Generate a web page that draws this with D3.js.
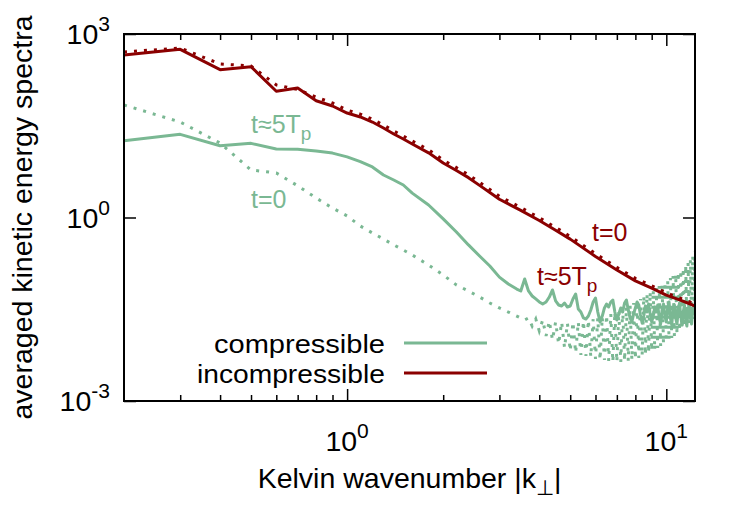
<!DOCTYPE html>
<html><head><meta charset="utf-8">
<script src="https://cdn.jsdelivr.net/npm/d3@7"></script>
<style>
body{margin:0;background:#fff;}
svg{display:block;}
text{font-family:"Liberation Sans",Arial,Helvetica,sans-serif;}
</style></head>
<body><svg id="c" width="747" height="523"></svg>
<script>
// ---- data ----
const kIncomp = [0.2,0.3,0.4,0.5,0.6,0.7,0.8,0.9,1.0,1.1,1.2,1.3,1.4,1.5,1.6,1.8,2.0,2.2,2.4,2.6,2.8,3.0,3.5,4.0,4.5,5.0,6.0,7.0,8.0,9.0,10,11,12,12.3];
const incompT5 = [454,562,261,292,116,131,81,66.5,51,44,36.4,29,23.2,19.2,15.9,11.4,7.8,5.86,4.48,3.35,2.57,1.99,1.31,0.893,0.619,0.443,0.231,0.139,0.092,0.0702,0.054,0.045,0.0378,0.0357];
const incompT0 = [508,590,324,300,147,124,93,74.5,57,49,40.5,32.5,26,21.5,17.8,12.8,8.7,6.55,5.0,3.75,2.88,2.22,1.46,0.99,0.69,0.49,0.256,0.153,0.101,0.0766,0.0587,0.0485,0.0405,0.038];

const kCompLow = [0.2,0.3,0.4,0.5,0.6,0.7,0.8,0.9,1.0,1.1,1.2,1.3,1.4,1.5,1.6,1.8,2.0,2.2,2.4,2.6,2.8,3.0,3.2,3.4];
const kCompHigh = [3.5,3.6,3.7,3.8,3.9,4.0,4.1,4.2,4.3,4.4,4.5,4.6,4.7,4.8,4.9,5.0,5.1,5.2,5.3,5.4,5.5,5.6,5.7,5.8,5.9,6.0,6.1,6.2,6.3,6.4,6.5,6.6,6.7,6.8,6.9,7.0,7.1,7.2,7.3,7.4,7.5,7.6,7.7,7.8,7.9,8.0,8.1,8.2,8.3,8.4,8.5,8.6,8.7,8.8,8.9,9.0,9.1,9.2,9.3,9.4,9.5,9.6,9.7,9.8,9.9,10.0,10.1,10.2,10.3,10.4,10.5,10.6,10.7,10.8,10.9,11.0,11.1,11.2,11.3,11.4,11.5,11.6,11.7,11.8,11.9,12.0,12.1,12.2,12.3];

const compT5Low = [18.0,22.9,14.9,16.3,13.2,13.0,12.2,11.3,9.8,8.2,6.7,4.95,4.1,3.4,2.5,1.6,0.95,0.58,0.356,0.235,0.161,0.106,0.0818,0.0677];
const compT5High = [0.0629,0.0989,0.0629,0.0521,0.0466,
 0.0416,0.0385,0.0416,0.0501,0.0653,0.0432,0.0371,0.0357,0.0400,0.0344,
 0.0357,0.0466,0.0562,0.0319,0.0285,0.0228,0.0219,0.0245,0.0308,0.0416,
 0.0483,0.0285,0.0196,0.0245,0.0332,0.0385,0.0344,0.0416,0.0448,0.0285,
 0.0211,0.0265,0.0332,0.0285,0.0400,0.0448,0.0308,0.0228,0.0196,0.0265,
 0.0332,0.0416,0.0371,0.0255,0.0188,0.0245,0.0357,0.0285,0.0385,0.0265,
 0.0196,0.0245,0.0344,0.0285,0.0371,0.0228,0.0182,0.0308,0.0385,0.0245,
 0.0196,0.0332,0.0416,0.0228,0.0175,0.0308,0.0371,0.0228,0.0182,0.0319,
 0.0400,0.0245,0.0175,0.0285,0.0371,0.0211,0.0168,0.0308,0.0385,0.0228,
 0.0182,0.0319,0.0357,0.0255];

const compT0Low = [69,36.4,16.5,5.98,5.35,3.3,2.08,1.43,1.06,0.726,0.558,0.445,0.356,0.294,0.244,0.167,0.115,0.0789,0.0629,0.0501,0.0400,0.0332,0.0285,0.0245];
const compT0High = [0.0228,0.0211,0.0228,0.0168,0.0219,
 0.0140,0.0211,0.01156,0.0203,0.00994,0.0196,0.00855,0.0196,0.00736,0.0188,
 0.00657,0.0196,0.00610,0.0196,0.00565,0.0203,0.00544,0.0211,0.00524,0.0219,
 0.00486,0.0228,0.00468,0.0236,0.00468,0.0255,0.00451,0.0265,0.00434,0.0285,
 0.00434,0.0296,0.00434,0.0319,0.00451,0.0344,0.00451,0.0371,0.00468,0.0400,
 0.00486,0.0432,0.00505,0.0466,0.00544,0.0521,0.00565,0.0562,0.00610,0.0606,
 0.00657,0.0653,0.00683,0.0704,0.00736,0.0759,0.00793,0.0818,0.00855,0.0882,
 0.00922,0.0951,0.00994,0.1026,0.01072,0.1106,0.01156,0.1193,0.01246,0.1286,
 0.0140,0.1387,0.0150,0.1495,0.0162,0.1674,0.0175,0.1804,0.0188,0.2020,
 0.0203,0.2349,0.0219,0.2835];

const xMajor = [1, 10];
const xMinor = [0.3,0.4,0.5,0.6,0.7,0.8,0.9,2,3,4,5,6,7,8,9];
const xTickBase = ["10","10"];
const xTickExp = ["0","1"];
const yMajor = [1e-3, 1, 1e3];
const yTickBase = ["10","10","10"];
const yTickExp = ["-3","0","3"];
const legendLabels = ["compressible","incompressible"];

// ---- layout ----
const L=124, R=695, T=34, B=401;
const green = "#7ab893", red = "#8b0000";
const svg = d3.select("#c");
const x = d3.scaleLog().domain([0.2, 12.3]).range([L, R]);
const y = d3.scaleLog().domain([1e-3, 1e3]).range([B, T]);

svg.append("defs").append("clipPath").attr("id","clip")
  .append("rect").attr("x",L).attr("y",T).attr("width",R-L).attr("height",B-T);

const line = d3.line().x(d=>x(d[0])).y(d=>y(d[1]));
const zip = (ks, vs) => ks.map((k,i)=>[k, vs[i]]);
const g = svg.append("g").attr("clip-path","url(#clip)");

const compK = kCompLow.concat(kCompHigh);
g.append("path").datum(zip(compK, compT0Low.concat(compT0High))).attr("d",line)
  .attr("fill","none").attr("stroke",green).attr("stroke-width",3).attr("stroke-dasharray","3 7");
g.append("path").datum(zip(compK, compT5Low.concat(compT5High))).attr("d",line)
  .attr("fill","none").attr("stroke",green).attr("stroke-width",3).attr("stroke-linejoin","round");
g.append("path").datum(zip(kIncomp, incompT0)).attr("d",line)
  .attr("fill","none").attr("stroke",red).attr("stroke-width",3).attr("stroke-dasharray","3 7");
g.append("path").datum(zip(kIncomp, incompT5)).attr("d",line)
  .attr("fill","none").attr("stroke",red).attr("stroke-width",3).attr("stroke-linejoin","round");

// ---- axes (inward ticks) ----
function styleAxis(sel){ sel.select(".domain").remove(); sel.selectAll(".tick line").attr("stroke","#000").attr("stroke-width",1.5); sel.selectAll(".tick text").remove(); }
svg.append("g").attr("transform",`translate(0,${B})`).call(d3.axisBottom(x).tickValues(xMajor).tickSize(-12)).call(styleAxis);
svg.append("g").attr("transform",`translate(0,${B})`).call(d3.axisBottom(x).tickValues(xMinor).tickSize(-6)).call(styleAxis);
svg.append("g").attr("transform",`translate(0,${T})`).call(d3.axisTop(x).tickValues(xMajor).tickSize(-12)).call(styleAxis);
svg.append("g").attr("transform",`translate(0,${T})`).call(d3.axisTop(x).tickValues(xMinor).tickSize(-6)).call(styleAxis);
svg.append("g").attr("transform",`translate(${L},0)`).call(d3.axisLeft(y).tickValues(yMajor).tickSize(-12)).call(styleAxis);
svg.append("g").attr("transform",`translate(${R},0)`).call(d3.axisRight(y).tickValues(yMajor).tickSize(-12)).call(styleAxis);

svg.append("rect").attr("x",L).attr("y",T).attr("width",R-L).attr("height",B-T)
  .attr("fill","none").attr("stroke","#000").attr("stroke-width",2);

// tick labels
const fs = 28.5;
xMajor.forEach((v,i)=>{
  const t = svg.append("text").attr("x",x(v)).attr("y",B+50).attr("text-anchor","middle").attr("font-size",fs);
  t.append("tspan").text(xTickBase[i]);
  t.append("tspan").attr("dy",-13).attr("font-size",21).text(xTickExp[i]);
});
yMajor.forEach((v,i)=>{
  const t = svg.append("text").attr("x",L-14).attr("y",y(v)+10).attr("text-anchor","end").attr("font-size",fs);
  t.append("tspan").text(yTickBase[i]);
  t.append("tspan").attr("dy",-13).attr("font-size",21).text(yTickExp[i]);
});

// axis titles
const xt = svg.append("text").attr("x",(L+R)/2).attr("y",488).attr("text-anchor","middle").attr("font-size",fs);
xt.append("tspan").text("Kelvin wavenumber |k");
xt.append("tspan").attr("dy",7).attr("font-size",21).text("⊥");
xt.append("tspan").attr("dy",-7).text("|");
svg.append("text").attr("transform",`translate(32,${(T+B)/2}) rotate(-90)`).attr("text-anchor","middle").attr("font-size",fs)
  .text("averaged kinetic energy spectra");

// legend
const legY = [343, 373];
const legC = [green, red];
legendLabels.forEach((lab,i)=>{
  svg.append("text").attr("x",385).attr("y",legY[i]+10).attr("text-anchor","end").attr("font-size",26.5).attr("textLength",i===0?171:188).attr("lengthAdjust","spacingAndGlyphs").text(lab);
  svg.append("line").attr("x1",404).attr("x2",487).attr("y1",legY[i]).attr("y2",legY[i]).attr("stroke",legC[i]).attr("stroke-width",3);
});

// annotations
function tLabel(xp, yp, col, sub){
  const t = svg.append("text").attr("x",xp).attr("y",yp).attr("fill",col).attr("font-size",25);
  if(sub){ t.append("tspan").text("t≈5T"); t.append("tspan").attr("dy",7).attr("font-size",19).text("p"); }
  else t.text("t=0");
}
tLabel(251,133,green,true);
tLabel(251,208,green,false);
tLabel(592,241,red,false);
tLabel(537,285,red,true);
</script></body></html>
